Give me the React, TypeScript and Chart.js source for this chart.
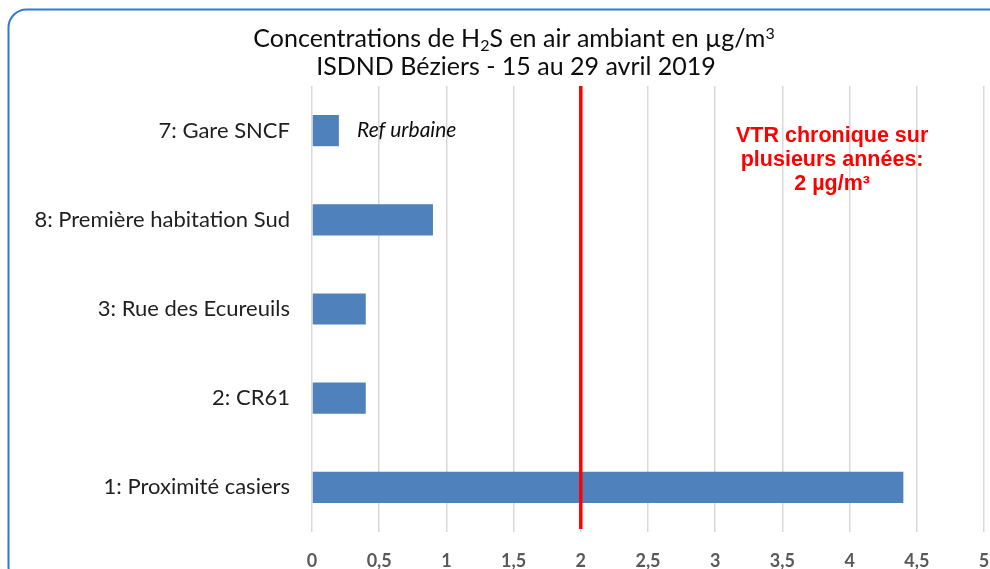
import React, { useEffect, useRef } from 'react';
import { Chart, registerables } from 'chart.js';

Chart.register(...registerables);

const categories = [
  '7: Gare SNCF',
  '8: Première habitation Sud',
  '3: Rue des Ecureuils',
  '2: CR61',
  '1: Proximité casiers',
];
const concentrations = [0.2, 0.9, 0.4, 0.4, 4.4];
const xMin = 0;
const xMax = 5;
const xStep = 0.5;
const vtrValue = 2;
const vtrLines = ['VTR chronique sur', 'plusieurs années:', '2 µg/m³'];
const vtrLabelX = 3.87;
const refLabel = 'Ref urbaine';
const refLabelX = 0.335;
const titleLine1 = [
  { t: 'Concentrations de H', k: 'n' },
  { t: '2', k: 'sub' },
  { t: 'S en air ambiant en µg/m', k: 'n' },
  { t: '3', k: 'sup' },
];
const titleLine2 = 'ISDND Béziers - 15 au 29 avril 2019';

const TITLE_FONT = 'Lato';
const TITLE_SIZE = 25;

const framePlugin = {
  id: 'frame',
  beforeDraw(chart: any) {
    const ctx = chart.ctx;
    ctx.save();
    ctx.fillStyle = '#ffffff';
    ctx.fillRect(0, 0, chart.width, chart.height);
    ctx.strokeStyle = '#2E7BCF';
    ctx.lineWidth = 2;
    ctx.beginPath();
    ctx.roundRect(8.5, 9.5, 1000, 575, 18);
    ctx.stroke();
    ctx.restore();
  },
};

const titlePlugin = {
  id: 'richTitle',
  afterDraw(chart: any) {
    const ctx = chart.ctx;
    const cx = 514;
    ctx.save();
    ctx.fillStyle = '#0d0d0d';
    ctx.textBaseline = 'alphabetic';
    ctx.textAlign = 'left';
    const fontFor = (k: string) =>
      `${k === 'n' ? TITLE_SIZE : Math.round(TITLE_SIZE * 0.62)}px ${TITLE_FONT}`;
    let total = 0;
    const widths = titleLine1.map((p) => {
      ctx.font = fontFor(p.k);
      const w = ctx.measureText(p.t).width;
      total += w;
      return w;
    });
    let x = cx - total / 2;
    const base1 = 47;
    titleLine1.forEach((p, i) => {
      ctx.font = fontFor(p.k);
      const dy = p.k === 'sub' ? 4 : p.k === 'sup' ? -8 : 0;
      ctx.fillText(p.t, x, base1 + dy);
      x += widths[i];
    });
    ctx.font = `${TITLE_SIZE}px ${TITLE_FONT}`;
    ctx.textAlign = 'center';
    ctx.fillText(titleLine2, cx + 2, 75);
    ctx.restore();
  },
};

const annotationPlugin = {
  id: 'annotations',
  afterDatasetsDraw(chart: any) {
    const ctx = chart.ctx;
    const xs = chart.scales.x;
    const ys = chart.scales.y;
    const area = chart.chartArea;
    ctx.save();
    const vx = xs.getPixelForValue(vtrValue);
    ctx.strokeStyle = '#FF0000';
    ctx.lineWidth = 3.5;
    ctx.beginPath();
    ctx.moveTo(vx, area.top);
    ctx.lineTo(vx, area.bottom - 3);
    ctx.stroke();
    const y0 = ys.getPixelForValue(0);
    ctx.fillStyle = '#FF0000';
    ctx.font = 'bold 21.5px "Liberation Sans", Arial, sans-serif';
    ctx.textAlign = 'center';
    ctx.textBaseline = 'alphabetic';
    const tx = xs.getPixelForValue(vtrLabelX);
    vtrLines.forEach((line, i) => {
      ctx.fillText(line, tx, y0 + 11.5 + i * 24);
    });
    ctx.fillStyle = '#0d0d0d';
    ctx.font = 'italic 21px Lato';
    ctx.textAlign = 'left';
    ctx.fillText(refLabel, xs.getPixelForValue(refLabelX), y0 + 6);
    ctx.restore();
  },
};

export default function App() {
  const ref = useRef<HTMLCanvasElement>(null);
  useEffect(() => {
    if (!ref.current) return;
    const chart = new Chart(ref.current, {
      type: 'bar',
      data: {
        labels: categories,
        datasets: [
          {
            data: concentrations,
            backgroundColor: '#4F81BD',
            borderWidth: 0,
            barPercentage: 0.35,
            categoryPercentage: 1,
          },
        ],
      },
      options: {
        indexAxis: 'y',
        responsive: false,
        animation: false,
        devicePixelRatio: 1,
        layout: { padding: { top: 86, bottom: 0, left: 0, right: 6 } },
        plugins: {
          legend: { display: false },
          title: { display: false },
          tooltip: { enabled: false },
        },
        scales: {
          x: {
            min: xMin,
            max: xMax,
            border: { display: false },
            grid: { color: '#D9D9D9', lineWidth: 1.5, drawTicks: false },
            ticks: {
              stepSize: xStep,
              padding: 18,
              color: '#595959',
              font: { family: 'Lato', size: 18, weight: 'bold' },
              callback: (v: any) => String(v).replace('.', ','),
            },
            afterFit: (scale: any) => {
              scale.height = 37;
              scale.paddingLeft = 0;
              scale.paddingRight = 0;
            },
          },
          y: {
            border: { display: false },
            grid: { display: false, drawTicks: false },
            ticks: {
              padding: 22,
              color: '#1f1f1f',
              font: { family: 'Lato', size: 22 },
            },
            afterFit: (scale: any) => {
              scale.width = 312;
              scale.paddingTop = 0;
              scale.paddingBottom = 0;
            },
          },
        },
      },
      plugins: [framePlugin, annotationPlugin, titlePlugin],
    } as any);
    return () => chart.destroy();
  }, []);
  return (
    <div style={{ position: 'absolute', left: 0, top: 0, width: 990, height: 569 }}>
      <canvas ref={ref} width={990} height={569} style={{ display: 'block' }} />
    </div>
  );
}
